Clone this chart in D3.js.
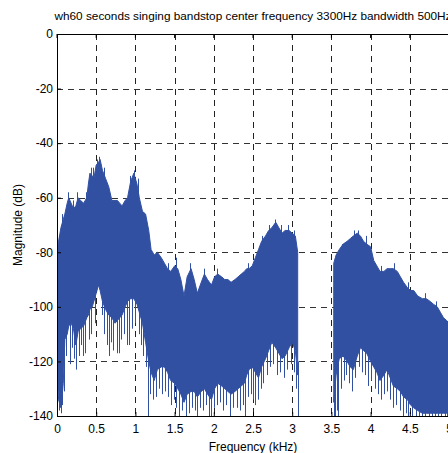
<!DOCTYPE html>
<html>
<head>
<meta charset="utf-8">
<script src="https://cdn.jsdelivr.net/npm/d3@7"></script>
<style>
  body { margin: 0; background: #fff; overflow: hidden; }
  svg { display: block; font-family: Arial, 'Liberation Sans', Helvetica, sans-serif; }
</style>
</head>
<body>
<div id="main"></div>
<script>

// datas

const freq = [0.00, 0.02, 0.05, 0.08, 0.10, 0.13, 0.15, 0.18, 0.21, 0.24, 0.27, 0.30, 0.34, 0.38, 0.40, 0.42, 0.45, 0.47, 0.50, 0.53,
  0.55, 0.58, 0.62, 0.66, 0.70, 0.74, 0.77, 0.80, 0.83, 0.87, 0.90, 0.94, 0.98, 1.02, 1.05, 1.09, 1.13, 1.17, 1.20, 1.24,
  1.28, 1.33, 1.37, 1.41, 1.45, 1.50, 1.54, 1.58, 1.62, 1.66, 1.71, 1.75, 1.79, 1.84, 1.88, 1.92, 1.97, 2.01, 2.05, 2.10,
  2.14, 2.18, 2.22, 2.27, 2.31, 2.35, 2.39, 2.42, 2.45, 2.49, 2.53, 2.57, 2.61, 2.66, 2.70, 2.74, 2.79, 2.83, 2.87, 2.91,
  2.96, 3.00, 3.04, 3.07, 3.30,
  3.53, 3.56, 3.60, 3.65, 3.70, 3.74, 3.78, 3.83, 3.87, 3.91, 3.95, 4.00, 4.04, 4.08, 4.12, 4.17, 4.21, 4.25, 4.29, 4.34,
  4.38, 4.42, 4.47, 4.51, 4.55, 4.60, 4.66, 4.71, 4.76, 4.80, 4.85, 4.89, 4.93, 4.97, 5.00];

// upper edge of the dense trace (dB)
const peakDb = [-80, -76, -71, -68, -66, -62, -60, -62, -64, -63, -60, -61, -62, -60, -55, -51, -52, -53, -48, -47,
  -46, -50, -53, -56, -61, -61, -61, -62, -63, -61, -60, -54, -51, -55, -60, -65, -66, -72, -79, -81,
  -80, -82, -84, -86, -87, -85, -86, -90, -96, -89, -86, -90, -95, -91, -88, -90, -92, -89, -88, -89,
  -90, -90, -91, -90, -89, -88, -87, -86, -86, -85, -82, -79, -76, -74, -72, -71, -69, -71, -73, -72,
  -72, -73, -74, -80, null,
  -84, -81, -79, -77, -76, -75, -74, -73, -74, -76, -77, -78, -83, -85, -87, -87, -86, -86, -86, -87,
  -89, -91, -93, -94, -94, -96, -97, -97, -98, -99, -100, -102, -104, -105, -106];

// lower edge of the dense trace (dB)
const floorDb = [-123, -134, -137, -128, -112, -110, -107, -106, -108, -114, -109, -108, -107, -104, -103, -101, -100, -98, -95, -92,
  -94, -98, -101, -103, -104, -106, -105, -104, -103, -100, -98, -97, -97, -99, -102, -106, -113, -120, -124, -127,
  -123, -122, -122, -124, -127, -128, -130, -132, -135, -132, -131, -131, -133, -131, -130, -132, -134, -130, -128, -129,
  -130, -131, -132, -131, -130, -129, -128, -125, -123, -122, -124, -126, -122, -119, -116, -113, -115, -117, -119, -118,
  -115, -113, -116, -125, null,
  -135, -125, -119, -118, -120, -122, -123, -118, -115, -116, -117, -120, -122, -124, -127, -125, -123, -126, -129, -130,
  -131, -133, -134, -136, -137, -138, -139, -139, -139, -139, -139, -139, -139, -139, -139];

// single deep dips reaching below the trace
const dipFreq = [0.03, 0.05, 0.07, 0.09, 0.12, 0.16, 0.19, 0.22, 0.24, 0.28, 0.31, 0.33, 0.36, 0.41, 0.44, 0.48, 0.57, 0.60,
  0.64, 0.66, 0.69, 0.72, 0.76, 0.79, 0.82, 0.86, 0.89, 0.92, 0.96, 1.00, 1.04, 1.07, 1.10, 1.13, 1.16, 1.19, 1.22,
  1.26, 1.30, 1.34, 1.38, 1.42, 1.46, 1.49, 1.52, 1.56, 1.60, 1.64, 1.68, 1.72, 1.76, 1.79, 1.82, 1.86, 1.90, 1.94, 1.97,
  2.00, 2.04, 2.08, 2.12, 2.16, 2.21, 2.25, 2.30, 2.33, 2.37, 2.40, 2.44, 2.47, 2.50, 2.53, 2.56, 2.60, 2.63, 2.68, 2.72,
  2.76, 2.80, 2.85, 2.89, 2.93, 2.98, 3.02, 3.05, 3.07,
  3.53, 3.55, 3.57, 3.59, 3.62, 3.66, 3.69, 3.72, 3.76, 3.80, 3.85, 3.89, 3.93, 3.97, 4.01, 4.05, 4.09, 4.13, 4.17, 4.21,
  4.25, 4.29, 4.33, 4.37, 4.41, 4.45, 4.48, 4.53, 4.58, 4.62, 4.66, 4.70, 4.74, 4.78, 4.82, 4.86, 4.90, 4.95, 4.98];
const dipDb = [-138, -139, -136, -131, -118, -121, -115, -119, -123, -118, -114, -118, -117, -112, -110, -106, -103, -110,
  -114, -118, -113, -116, -117, -117, -112, -110, -114, -114, -108, -106, -110, -114, -118, -122, -140, -132, -134,
  -133, -130, -132, -131, -133, -136, -134, -137, -140, -138, -140, -139, -137, -138, -140, -137, -138, -136, -140, -140,
  -137, -136, -135, -138, -136, -140, -137, -137, -138, -136, -140, -133, -132, -134, -136, -134, -130, -128, -125, -122,
  -121, -125, -124, -126, -123, -121, -124, -130, -140,
  -140, -140, -138, -140, -130, -127, -125, -128, -131, -126, -122, -124, -125, -129, -127, -130, -132, -134, -132, -131,
  -134, -137, -136, -138, -140, -139, -140, -140, -140, -140, -140, -140, -140, -140, -140, -140, -140, -140, -140];

// thin peaks sticking out above the trace
const spikeFreq = [0.03, 0.07, 0.14, 0.20, 0.26, 0.37, 0.43, 0.46, 0.51, 0.54, 0.60, 0.93, 0.98, 1.03, 1.42, 1.52, 1.70,
  1.87, 2.04, 2.43, 2.62, 2.71, 2.78, 2.86, 2.95, 3.02, 3.64, 3.79, 3.84, 3.94, 4.13, 4.30, 4.48, 4.70, 4.83];
const spikeDb = [-74, -66, -58, -61, -58, -58, -49, -49, -46, -45, -49, -52, -50, -53, -84, -82, -84, -86, -86, -84,
  -74, -70, -68, -70, -70, -72, -77, -72, -72, -74, -85, -84, -91, -95, -98];

const xTicks = [0, 0.5, 1, 1.5, 2, 2.5, 3, 3.5, 4, 4.5, 5];
const yTicks = [0, -20, -40, -60, -80, -100, -120, -140];

const w = 448;
const h = 453;
const mLeft = 57, mTop = 34, mRight = 449, mBottom = 416;
const blue = '#3150a2';


// svg

const svg = d3.select('#main').append('svg').attr('width', w).attr('height', h);

const x = d3.scaleLinear().domain([0, 5]).range([mLeft, mRight]);
const y = d3.scaleLinear().domain([-140, 0]).range([mBottom, mTop]);
const px = f => Math.round(x(f)) + 0.5;

svg.append('clipPath').attr('id', 'clip')
    .append('rect')
    .attr('x', mLeft).attr('y', mTop)
    .attr('width', mRight - mLeft).attr('height', mBottom - mTop);


// grid

svg.append('g')
    .selectAll('line')
    .data(xTicks.slice(1, -1))
    .enter()
    .append('line')
    .attr('x1', d => px(d))
    .attr('x2', d => px(d))
    .attr('y1', mTop)
    .attr('y2', mBottom)
    .attr('stroke', '#222')
    .attr('stroke-dasharray', '6,5');

svg.append('g')
    .selectAll('line')
    .data(yTicks.slice(1, -1))
    .enter()
    .append('line')
    .attr('x1', mLeft)
    .attr('x2', mRight)
    .attr('y1', d => Math.round(y(d)) + 0.5)
    .attr('y2', d => Math.round(y(d)) + 0.5)
    .attr('stroke', '#333')
    .attr('stroke-dasharray', '6,5');


// trace

const rows = freq.map((f, i) => ({ f: f, hi: peakDb[i], lo: floorDb[i] }));

const area = d3.area()
    .defined(d => d.hi !== null)
    .x(d => x(d.f))
    .y0(d => y(d.lo))
    .y1(d => y(d.hi));

const trace = svg.append('g').attr('clip-path', 'url(#clip)');

trace.append('path')
    .datum(rows)
    .attr('d', area)
    .attr('fill', blue)
    .attr('stroke', blue)
    .attr('stroke-width', 1);

// value of an edge at f, taken from the nearest read point
function edgeAt(arr, f) {
    const i = Math.min(d3.bisectLeft(freq, f), freq.length - 1);
    return arr[i] === null ? arr[i - 1] : arr[i];
}

trace.selectAll('.dip')
    .data(dipFreq.map((f, i) => ({ f: f, db: dipDb[i] })))
    .enter()
    .append('line')
    .attr('class', 'dip')
    .attr('x1', d => px(d.f))
    .attr('x2', d => px(d.f))
    .attr('y1', d => y(edgeAt(floorDb, d.f) + 5))
    .attr('y2', d => y(d.db))
    .attr('stroke', blue)
    .attr('stroke-width', 1);

trace.selectAll('.spike')
    .data(spikeFreq.map((f, i) => ({ f: f, db: spikeDb[i] })))
    .enter()
    .append('line')
    .attr('class', 'spike')
    .attr('x1', d => px(d.f))
    .attr('x2', d => px(d.f))
    .attr('y1', d => y(edgeAt(peakDb, d.f) - 5))
    .attr('y2', d => y(d.db))
    .attr('stroke', blue)
    .attr('stroke-width', 1);


// axes

const xAxis = d3.axisBottom(x).tickValues(xTicks).tickSize(-4).tickPadding(8).tickFormat(d => String(d));
const yAxis = d3.axisLeft(y).tickValues(yTicks).tickSize(-4).tickPadding(4).tickFormat(d => String(d));

const gx = svg.append('g').attr('transform', `translate(0,${mBottom})`).call(xAxis);
const gy = svg.append('g').attr('transform', `translate(${mLeft},0)`).call(yAxis);

[gx, gy].forEach(g => {
    g.select('.domain').remove();
    g.selectAll('text').attr('font-size', 12).attr('fill', '#000').attr('font-family', null);
    g.selectAll('line').attr('stroke', '#000');
});

// top ticks
svg.append('g')
    .selectAll('line')
    .data(xTicks)
    .enter()
    .append('line')
    .attr('x1', d => x(d)).attr('x2', d => x(d))
    .attr('y1', mTop).attr('y2', mTop + 4)
    .attr('stroke', '#000');

// box
svg.append('rect')
    .attr('x', mLeft + 0.5)
    .attr('y', mTop + 0.5)
    .attr('width', mRight - mLeft)
    .attr('height', mBottom - mTop)
    .attr('fill', 'none')
    .attr('stroke', '#000');


// texts

svg.append('text')
    .attr('x', (mLeft + mRight) / 2)
    .attr('y', 20)
    .attr('text-anchor', 'middle')
    .attr('font-size', 11.5)
    .attr('textLength', 397)
    .attr('lengthAdjust', 'spacingAndGlyphs')
    .text('wh60 seconds singing bandstop center frequency 3300Hz bandwidth 500Hz');

svg.append('text')
    .attr('x', (mLeft + mRight) / 2)
    .attr('y', 451)
    .attr('text-anchor', 'middle')
    .attr('font-size', 12)
    .text('Frequency (kHz)');

svg.append('text')
    .attr('transform', `translate(22,${(mTop + mBottom) / 2}) rotate(-90)`)
    .attr('text-anchor', 'middle')
    .attr('font-size', 12)
    .text('Magnitude (dB)');

</script>
</body>
</html>
